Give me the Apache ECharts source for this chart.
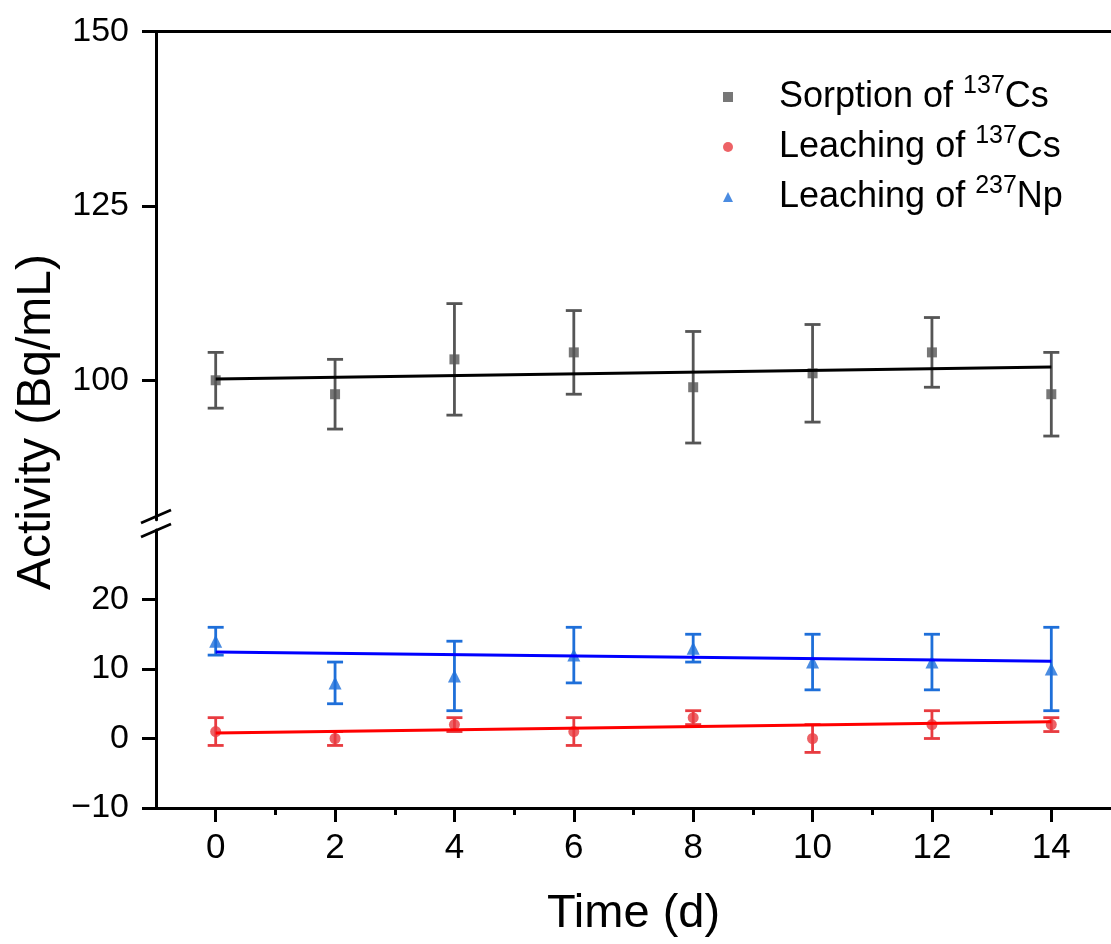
<!DOCTYPE html>
<html>
<head>
<meta charset="utf-8">
<script src="https://cdn.jsdelivr.net/npm/echarts@6/dist/echarts.min.js"></script>
<style>html,body{margin:0;padding:0;background:#fff}#c{width:1111px;height:944px}</style>
</head>
<body>
<div id="c"></div>
<script>
// ---- data ----
const timeDays = [0, 2, 4, 6, 8, 10, 12, 14];
const sorptionCs = [100, 98, 103, 104, 99, 101, 104, 98];
const sorptionCsErr = [4, 5, 8, 6, 8, 7, 5, 6];
const leachingCs = [1, 0, 2, 1, 3, 0, 2, 2];
const leachingCsErr = [2, 1, 1, 2, 1, 2, 2, 1];
const leachingNp = [14, 8, 9, 12, 13, 11, 11, 10];
const leachingNpErr = [2, 3, 5, 4, 2, 4, 4, 6];
const fitX = [0, 14];
const sorptionCsFit = [100.2, 101.9];
const leachingCsFit = [0.8, 2.4];
const leachingNpFit = [12.45, 11.1];
const seriesNames = ['Sorption of 137Cs', 'Leaching of 137Cs', 'Leaching of 237Np'];
const xMajorTicks = [0, 2, 4, 6, 8, 10, 12, 14];
const xMinorTicks = [1, 3, 5, 7, 9, 11, 13];
const yUpperMajor = [100, 125, 150];
const yUpperMinor = [87.5, 112.5, 137.5];
const yLowerMajor = [-10, 0, 10, 20];
const yLowerMinor = [-5, 5, 15, 25];

const FONT = 'Liberation Sans, Arial, sans-serif';
const C_GRAY = '#555555', C_RED = '#e83b40', C_BLUE = '#1e6fd9';

const pts = (ys) => timeDays.map((t, i) => [t, ys[i]]);
const errs = (ys, es) => timeDays.map((t, i) => [t, ys[i] - es[i], ys[i] + es[i]]);
const fit = (ys) => fitX.map((t, i) => [t, ys[i]]);

function errRender(color) {
  return function (params, api) {
    const x = api.value(0), lo = api.value(1), hi = api.value(2);
    const a = api.coord([x, hi]), b = api.coord([x, lo]);
    const hw = 8;
    const st = { stroke: color, lineWidth: 2.8 };
    return {
      type: 'group',
      children: [
        { type: 'line', shape: { x1: a[0], y1: a[1], x2: b[0], y2: b[1] }, style: st },
        { type: 'line', shape: { x1: a[0] - hw, y1: a[1], x2: a[0] + hw, y2: a[1] }, style: st },
        { type: 'line', shape: { x1: b[0] - hw, y1: b[1], x2: b[0] + hw, y2: b[1] }, style: st }
      ]
    };
  };
}

const axisLineStyle = { color: '#000', width: 3 };
const tickStyle = { color: '#000', width: 3 };
const minus = (v) => String(v).replace('-', '\u2212');

function yAxes(grid, min, max, major, minor) {
  return [
    { type: 'value', gridIndex: grid, min: min, max: max,
      axisLine: { show: true, onZero: false, lineStyle: axisLineStyle },
      axisTick: { show: true, inside: false, length: 14, customValues: major, lineStyle: tickStyle },
      axisLabel: { show: true, customValues: major, margin: 27, formatter: minus, color: '#000', fontSize: 34, fontFamily: FONT },
      splitLine: { show: false } },
    { type: 'value', gridIndex: grid, min: min, max: max,
      axisLine: { show: false, onZero: false },
      axisTick: { show: true, inside: false, length: 7, customValues: minor, lineStyle: tickStyle },
      axisLabel: { show: false }, splitLine: { show: false } }
  ];
}

const chart = echarts.init(document.getElementById('c'), null, { renderer: 'canvas' });
chart.setOption({
  animation: false,
  backgroundColor: '#fff',
  grid: [
    { left: 156, top: 31.7, width: 965, height: 488 },
    { left: 156, top: 530, width: 965, height: 278 }
  ],
  xAxis: [
    { type: 'value', gridIndex: 0, position: 'top', min: -1, max: 15,
      axisLine: { show: true, onZero: false, lineStyle: axisLineStyle }, axisTick: { show: false },
      axisLabel: { show: false }, splitLine: { show: false } },
    { type: 'value', gridIndex: 1, position: 'bottom', min: -1, max: 15,
      axisLine: { show: true, onZero: false, lineStyle: axisLineStyle },
      axisTick: { show: true, length: 14, customValues: xMajorTicks, lineStyle: tickStyle },
      axisLabel: { show: true, customValues: xMajorTicks, margin: 23, color: '#000', fontSize: 35, fontFamily: FONT },
      splitLine: { show: false },
      name: 'Time (d)', nameLocation: 'middle', nameGap: 83,
      nameTextStyle: { color: '#000', fontSize: 47, fontFamily: FONT } },
    { type: 'value', gridIndex: 1, position: 'bottom', min: -1, max: 15,
      axisLine: { show: false, onZero: false },
      axisTick: { show: true, length: 7, customValues: xMinorTicks, lineStyle: tickStyle },
      axisLabel: { show: false }, splitLine: { show: false } }
  ],
  yAxis: [].concat(
    yAxes(0, 80, 150, yUpperMajor, yUpperMinor),
    yAxes(1, -10, 30, yLowerMajor, yLowerMinor)
  ),
  legend: {
    orient: 'vertical', left: 723, top: 74, padding: 0, itemGap: 4,
    itemWidth: 10, itemHeight: 10,
    data: seriesNames,
    formatter: (name) => name.replace(/(\d+)/, '{sup|$1}'),
    textStyle: {
      color: '#000', fontSize: 36, fontFamily: FONT, lineHeight: 46, padding: [0, 0, 0, 41],
      rich: { sup: { fontSize: 25, fontFamily: FONT, color: '#000', verticalAlign: 'top' } }
    }
  },
  graphic: [
    { type: 'text', x: 37, y: 422, rotation: Math.PI / 2,
      style: { text: 'Activity (Bq/mL)', fill: '#000', fontSize: 48, fontFamily: FONT, align: 'center', verticalAlign: 'middle' } },
    { type: 'line', shape: { x1: 141, y1: 523, x2: 171, y2: 510 }, style: { stroke: '#000', lineWidth: 2.8 }, z: 100 },
    { type: 'line', shape: { x1: 141, y1: 537, x2: 171, y2: 524 }, style: { stroke: '#000', lineWidth: 2.8 }, z: 100 }
  ],
  series: [
    { type: 'custom', name: 'errSorption', xAxisIndex: 0, yAxisIndex: 0, renderItem: errRender(C_GRAY),
      data: errs(sorptionCs, sorptionCsErr), encode: { x: 0, y: [1, 2] }, z: 2 },
    { type: 'custom', name: 'errLeachCs', xAxisIndex: 1, yAxisIndex: 2, renderItem: errRender(C_RED),
      data: errs(leachingCs, leachingCsErr), encode: { x: 0, y: [1, 2] }, z: 2 },
    { type: 'custom', name: 'errLeachNp', xAxisIndex: 1, yAxisIndex: 2, renderItem: errRender(C_BLUE),
      data: errs(leachingNp, leachingNpErr), encode: { x: 0, y: [1, 2] }, z: 2 },
    { type: 'scatter', name: seriesNames[0], xAxisIndex: 0, yAxisIndex: 0, symbol: 'rect', symbolSize: 10,
      itemStyle: { color: C_GRAY }, data: pts(sorptionCs), z: 3 },
    { type: 'scatter', name: seriesNames[1], xAxisIndex: 1, yAxisIndex: 2, symbol: 'circle', symbolSize: 11,
      itemStyle: { color: C_RED }, data: pts(leachingCs), z: 3 },
    { type: 'scatter', name: seriesNames[2], xAxisIndex: 1, yAxisIndex: 2, symbol: 'triangle', symbolSize: 13,
      itemStyle: { color: C_BLUE }, data: pts(leachingNp), z: 3 },
    { type: 'line', name: 'fitSorption', xAxisIndex: 0, yAxisIndex: 0, data: fit(sorptionCsFit), showSymbol: false,
      lineStyle: { color: '#000', width: 3 }, z: 4 },
    { type: 'line', name: 'fitLeachCs', xAxisIndex: 1, yAxisIndex: 2, data: fit(leachingCsFit), showSymbol: false,
      lineStyle: { color: '#ff0000', width: 3 }, z: 4 },
    { type: 'line', name: 'fitLeachNp', xAxisIndex: 1, yAxisIndex: 2, data: fit(leachingNpFit), showSymbol: false,
      lineStyle: { color: '#0000ff', width: 3 }, z: 4 }
  ]
});
</script>
</body>
</html>
